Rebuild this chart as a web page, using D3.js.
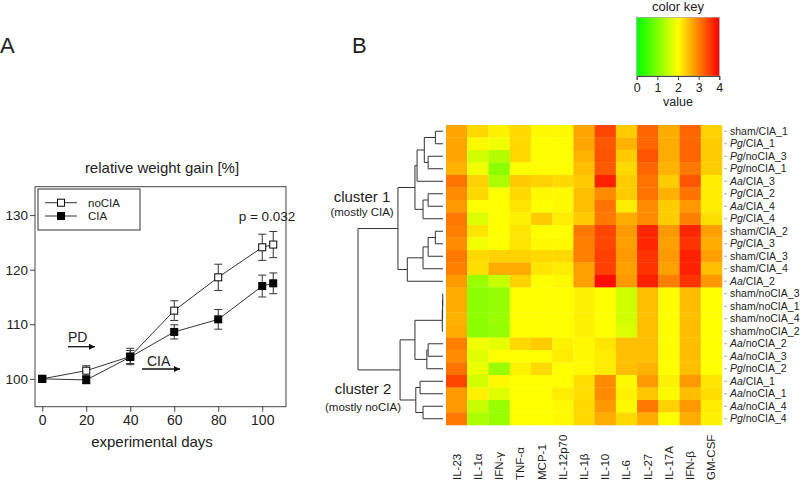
<!DOCTYPE html>
<html>
<head>
<meta charset="utf-8">
<script src="https://cdn.jsdelivr.net/npm/d3@7"></script>
<style>
  body { margin: 0; background: #fff; }
  svg { font-family: "Liberation Sans", Arial, sans-serif; }
</style>
</head>
<body>
<svg id="fig" width="800" height="481"></svg>
<script>
// ---- panel A data ----
const days = [0, 20, 40, 60, 80, 100, 105];
const noCIA = [100, 101.5, 104.1, 112.5, 118.6, 124.1, 124.6];
const noCIAErr = [0, 0.9, 1.5, 1.8, 2.4, 2.4, 2.4];
const CIA = [100, 99.8, 104.0, 108.6, 110.9, 117.0, 117.5];
const CIAErr = [0, 0.7, 1.2, 1.3, 1.8, 2.0, 1.9];
const xTicks = [0, 20, 40, 60, 80, 100];
const yTicks = [100, 110, 120, 130];

// ---- panel B data ----
const cytokines = ["IL-23", "IL-1α", "IFN-γ", "TNF-α", "MCP-1", "IL-12p70", "IL-1β",
  "IL-10", "IL-6", "IL-27", "IL-17A", "IFN-β", "GM-CSF"];
const samples = ["sham/CIA_1", "Pg/CIA_1", "Pg/noCIA_3", "Pg/noCIA_1", "Aa/CIA_3", "Pg/CIA_2",
  "Aa/CIA_4", "Pg/CIA_4", "sham/CIA_2", "Pg/CIA_3", "sham/CIA_3", "sham/CIA_4", "Aa/CIA_2",
  "sham/noCIA_3", "sham/noCIA_1", "sham/noCIA_4", "sham/noCIA_2", "Aa/noCIA_2", "Aa/noCIA_3",
  "Pg/noCIA_2", "Aa/CIA_1", "Aa/noCIA_1", "Aa/noCIA_4", "Pg/noCIA_4"];
const values = [
  [2.7, 2.3, 2.1, 2.3, 2.05, 2.05, 2.7, 3.45, 2.4, 3.2, 2.65, 3.2, 2.35],
  [2.7, 2.05, 1.9, 2.3, 2.0, 2.0, 2.7, 3.3, 2.6, 3.2, 2.65, 3.2, 2.4],
  [2.7, 1.65, 1.4, 2.3, 2.0, 2.0, 2.6, 3.35, 2.4, 3.35, 2.65, 3.2, 2.4],
  [2.6, 1.9, 1.1, 2.0, 2.0, 2.0, 2.5, 3.3, 2.3, 3.2, 2.6, 3.05, 2.4],
  [3.1, 2.35, 1.35, 2.4, 2.35, 2.3, 2.4, 3.75, 2.4, 3.1, 2.4, 3.35, 2.15],
  [2.9, 2.3, 2.0, 2.3, 2.05, 2.05, 2.5, 2.9, 2.4, 3.1, 2.6, 3.1, 2.15],
  [2.8, 2.0, 2.0, 2.2, 2.0, 2.05, 2.5, 3.1, 2.15, 2.9, 2.4, 2.8, 2.15],
  [3.05, 1.7, 2.0, 2.1, 2.4, 2.15, 2.4, 3.05, 2.65, 2.9, 2.4, 3.0, 2.25],
  [3.0, 2.2, 2.0, 2.2, 2.0, 2.0, 3.05, 3.45, 2.8, 3.7, 2.8, 3.7, 2.75],
  [2.9, 1.9, 2.0, 2.2, 2.05, 2.05, 3.0, 3.45, 2.75, 3.7, 2.75, 3.6, 2.65],
  [3.05, 2.3, 2.35, 2.35, 2.3, 2.3, 3.0, 3.5, 2.8, 3.6, 2.8, 3.75, 2.75],
  [3.0, 2.25, 2.65, 2.65, 2.2, 2.15, 2.75, 3.5, 2.75, 3.6, 2.75, 3.75, 2.5],
  [2.8, 1.2, 1.55, 2.35, 2.0, 2.05, 2.75, 3.9, 2.8, 3.75, 3.0, 3.6, 2.8],
  [2.65, 1.1, 1.15, 2.0, 2.0, 2.0, 2.1, 2.0, 1.65, 2.5, 2.0, 2.5, 2.0],
  [2.65, 1.1, 1.15, 2.0, 2.0, 2.0, 2.1, 2.0, 1.65, 2.5, 2.0, 2.5, 2.0],
  [2.6, 1.1, 1.2, 2.0, 2.0, 2.0, 2.1, 2.0, 1.65, 2.5, 2.0, 2.5, 2.0],
  [2.65, 1.1, 1.15, 2.0, 2.0, 2.0, 2.1, 2.0, 1.7, 2.5, 2.0, 2.5, 2.0],
  [3.0, 1.9, 1.8, 2.3, 2.4, 2.1, 2.05, 2.2, 2.5, 2.5, 2.0, 2.5, 2.0],
  [2.9, 1.75, 2.0, 2.0, 2.0, 2.15, 2.05, 2.15, 2.5, 2.5, 2.0, 2.5, 2.0],
  [3.1, 1.85, 1.2, 2.1, 2.3, 2.0, 2.05, 2.15, 2.5, 2.6, 2.0, 2.5, 2.0],
  [3.45, 1.65, 2.05, 2.0, 2.0, 2.0, 2.25, 2.9, 2.05, 2.8, 2.1, 2.8, 2.2],
  [2.8, 2.1, 1.75, 2.0, 2.0, 2.15, 2.25, 2.9, 2.1, 2.45, 2.05, 2.5, 2.25],
  [2.8, 1.55, 1.2, 2.0, 2.0, 2.05, 2.3, 2.8, 2.05, 3.05, 2.35, 2.8, 2.15],
  [3.05, 1.35, 1.2, 2.0, 2.0, 2.05, 2.3, 2.65, 2.3, 2.65, 2.0, 2.65, 2.1]
];
// dendrogram: [height, left, right], leaves are row indices
const dendro = [10,
  [5.3,
    [3.3,
      [3.05, [2.2, [0.9, 0, 1], [1.75, 2, 3]], 4],
      [2.35, [1.75, 5, 6], 7]],
    [4.2, [2.35, [1.75, [0.9, 8, 9], 10], 11], 12]],
  [5.05,
    [3.3,
      [0.08, [0.05, [0.03, 13, 14], 15], 16],
      [1.9, [1.75, 17, 18], 19]],
    [3.2, [2.7, 20, 21], [2.35, 22, 23]]]];
const keyTicks = [0, 1, 2, 3, 4];

const svg = d3.select("#fig");
const ink = "#222";

// ================= panel A =================
svg.append("text").attr("x", 0).attr("y", 53).attr("font-size", 22).attr("fill", ink).text("A");

const x = d3.scaleLinear().domain([-3.3, 110.8]).range([35, 286]);
const y = d3.scaleLinear().domain([94.9, 135.2]).range([406.7, 186.7]);

const gA = svg.append("g");
gA.append("rect").attr("x", 35).attr("y", 186.7).attr("width", 251).attr("height", 220)
  .attr("fill", "none").attr("stroke", "#444");

const xAxis = gA.append("g").attr("transform", "translate(0,406.7)")
  .call(d3.axisBottom(x).tickValues(xTicks).tickSize(5).tickPadding(3));
xAxis.select(".domain").remove();
xAxis.selectAll("text").attr("font-size", 14).attr("font-family", "Liberation Sans, Arial").attr("fill", ink);
const yAxis = gA.append("g").attr("transform", "translate(35,0)")
  .call(d3.axisLeft(y).tickValues(yTicks).tickSize(5).tickPadding(2));
yAxis.select(".domain").remove();
yAxis.selectAll("text").attr("font-size", 13.5).attr("font-family", "Liberation Sans, Arial").attr("fill", ink);
gA.selectAll(".tick line").attr("stroke", "#444");

gA.append("text").attr("x", 162).attr("y", 173).attr("text-anchor", "middle")
  .attr("font-size", 15).attr("fill", ink).text("relative weight gain [%]");
gA.append("text").attr("x", 152).attr("y", 447).attr("text-anchor", "middle")
  .attr("font-size", 15).attr("fill", ink).text("experimental days");
gA.append("text").attr("x", 267).attr("y", 221).attr("text-anchor", "middle")
  .attr("font-size", 13.5).attr("fill", ink).text("p = 0.032");

const series = [
  { vals: noCIA, err: noCIAErr, fill: "#fff" },
  { vals: CIA, err: CIAErr, fill: "#000" }
];
const line = d3.line().x((d, i) => x(days[i])).y(d => y(d));
series.forEach(s => {
  gA.append("path").attr("d", line(s.vals)).attr("fill", "none").attr("stroke", "#333").attr("stroke-width", 1);
  const eb = gA.append("g");
  s.vals.forEach((v, i) => {
    if (!s.err[i]) return;
    const cx = x(days[i]);
    eb.append("line").attr("x1", cx).attr("x2", cx).attr("y1", y(v - s.err[i])).attr("y2", y(v + s.err[i]))
      .attr("stroke", "#333");
    [v - s.err[i], v + s.err[i]].forEach(e => eb.append("line").attr("x1", cx - 4).attr("x2", cx + 4)
      .attr("y1", y(e)).attr("y2", y(e)).attr("stroke", "#333"));
  });
});
series.forEach(s => {
  gA.selectAll(null).data(s.vals).join("rect")
    .attr("x", (d, i) => x(days[i]) - 3.5).attr("y", d => y(d) - 3.5)
    .attr("width", 7).attr("height", 7)
    .attr("fill", s.fill).attr("stroke", "#000").attr("stroke-width", 1);
});

// legend
gA.append("rect").attr("x", 38).attr("y", 189).attr("width", 102).attr("height", 41)
  .attr("fill", "#fff").attr("stroke", "#333");
[["noCIA", "#fff", 202.7], ["CIA", "#000", 216]].forEach(([lab, f, ly]) => {
  gA.append("line").attr("x1", 45).attr("x2", 77).attr("y1", ly).attr("y2", ly).attr("stroke", "#333");
  gA.append("rect").attr("x", 57.5).attr("y", ly - 3.5).attr("width", 7).attr("height", 7)
    .attr("fill", f).attr("stroke", "#000");
  gA.append("text").attr("x", 88).attr("y", ly + 4).attr("font-size", 11.5).attr("fill", ink).text(lab);
});

// arrows
svg.append("defs").append("marker").attr("id", "ah").attr("viewBox", "0 0 10 10")
  .attr("refX", 10).attr("refY", 5).attr("markerWidth", 7).attr("markerHeight", 6)
  .attr("markerUnits", "userSpaceOnUse").attr("orient", "auto")
  .append("path").attr("d", "M0,0L10,5L0,10Z").attr("fill", "#111");
[["PD", 68, 342, 68, 95, 346.7], ["CIA", 147, 366, 142, 180, 369]].forEach(([t, tx, ty, a1, a2, ay]) => {
  gA.append("text").attr("x", tx).attr("y", ty).attr("font-size", 14).attr("fill", ink).text(t);
  gA.append("line").attr("x1", a1).attr("x2", a2).attr("y1", ay).attr("y2", ay)
    .attr("stroke", "#111").attr("stroke-width", 1.3).attr("marker-end", "url(#ah)");
});

// ================= panel B =================
svg.append("text").attr("x", 352).attr("y", 53).attr("font-size", 22).attr("fill", ink).text("B");

const color = d3.scaleLinear().domain([0, 2, 4]).range(["#00ff00", "#ffff00", "#ff0000"]);
const xb = d3.scaleBand().domain(cytokines).range([446, 722]);
const yb = d3.scaleBand().domain(samples).range([125, 425]);

const gB = svg.append("g");
values.forEach((row, r) => {
  gB.selectAll(null).data(row).join("rect")
    .attr("x", (d, c) => xb(cytokines[c])).attr("y", yb(samples[r]))
    .attr("width", xb.bandwidth() + 0.3).attr("height", yb.bandwidth() + 0.3)
    .attr("fill", d => color(d));
});

// row labels (italic genus prefix)
const rowLab = gB.selectAll(".rl").data(samples).join("text")
  .attr("x", 730).attr("y", d => yb(d) + yb.bandwidth() / 2).attr("dy", "0.35em")
  .attr("font-size", 10.5).attr("fill", ink);
rowLab.each(function (d) {
  const [pre, post] = d.split("/");
  const t = d3.select(this);
  t.append("tspan").attr("font-style", pre === "sham" ? "normal" : "italic").text(pre);
  t.append("tspan").text("/" + post);
});
gB.selectAll(".rt").data(samples).join("line")
  .attr("x1", 724).attr("x2", 727).attr("y1", d => yb(d) + yb.bandwidth() / 2)
  .attr("y2", d => yb(d) + yb.bandwidth() / 2).attr("stroke", "#aaa");

// column labels
gB.selectAll(".cl").data(cytokines).join("text")
  .attr("transform", d => `translate(${xb(d) + xb.bandwidth() / 2 + 4},480) rotate(-90)`)
  .attr("font-size", 11.5).attr("fill", ink).text(d => d);

// dendrogram
const xd = d3.scaleLinear().domain([0, 10]).range([443, 358]);
const root = d3.hierarchy(dendro, d => Array.isArray(d) ? d.slice(1) : null);
root.eachAfter(n => {
  if (n.children) {
    n.h = n.data[0];
    n.py = d3.mean(n.children, c => c.py);
  } else {
    n.h = 0;
    n.py = yb(samples[n.data]) + yb.bandwidth() / 2;
  }
});
const dg = gB.append("g").attr("stroke", "#333").attr("fill", "none");
root.each(n => {
  if (!n.children) return;
  const nx = xd(n.h);
  dg.append("line").attr("x1", nx).attr("x2", nx).attr("y1", n.children[0].py).attr("y2", n.children[1].py);
  n.children.forEach(c => dg.append("line").attr("x1", nx).attr("x2", xd(c.h)).attr("y1", c.py).attr("y2", c.py));
});

// cluster labels
[["cluster 1", "(mostly CIA)", 362, 201.5, 215.5], ["cluster 2", "(mostly noCIA)", 363, 394, 411]].forEach(([a, b, cx, y1, y2]) => {
  gB.append("text").attr("x", cx).attr("y", y1).attr("text-anchor", "middle")
    .attr("font-size", 15).attr("fill", ink).text(a);
  gB.append("text").attr("x", cx).attr("y", y2).attr("text-anchor", "middle")
    .attr("font-size", 11.5).attr("fill", ink).text(b);
});

// color key
const kx = d3.scaleLinear().domain([0, 4]).range([636.7, 719.3]);
const grad = svg.select("defs").append("linearGradient").attr("id", "kg");
d3.range(0, 4.01, 0.25).forEach(v => grad.append("stop")
  .attr("offset", (v / 4 * 100) + "%").attr("stop-color", color(v)));
const gK = svg.append("g");
gK.append("rect").attr("x", kx(0)).attr("y", 17.3).attr("width", kx(4) - kx(0)).attr("height", 58.7)
  .attr("fill", "url(#kg)").attr("stroke", "#999").attr("stroke-width", 0.6);
const kAxis = gK.append("g").attr("transform", "translate(0,76)")
  .call(d3.axisBottom(kx).tickValues(keyTicks).tickFormat(d3.format("d")).tickSize(4).tickPadding(3));
kAxis.select(".domain").attr("stroke", "#444");
kAxis.selectAll("line").attr("stroke", "#444");
kAxis.selectAll("text").attr("font-size", 12.5).attr("font-family", "Liberation Sans, Arial").attr("fill", ink);
gK.append("text").attr("x", 678).attr("y", 11).attr("text-anchor", "middle").attr("font-size", 13).attr("fill", ink).text("color key");
gK.append("text").attr("x", 678).attr("y", 106).attr("text-anchor", "middle").attr("font-size", 12.5).attr("fill", ink).text("value");
</script>
</body>
</html>
